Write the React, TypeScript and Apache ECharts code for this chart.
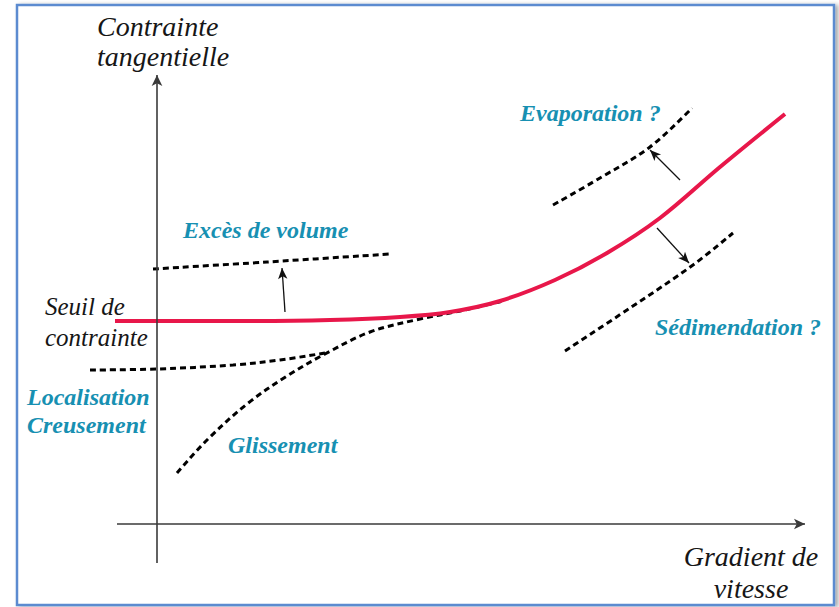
import React, { useEffect, useRef } from "react";
import * as echarts from "echarts";

// Schematic coordinates: origin at the crossing of the two axes (x to the right, y upward)
const xAxisLine: [number, number][] = [[-40, 0], [648, 0]];
const yAxisLine: [number, number][] = [[0, -39], [0, 449]];

const flowCurve: [number, number][] = [
  [-42, 203], [93, 203], [173, 204], [243, 207], [293, 212], [343, 223],
  [398, 244], [450, 271], [503, 306], [563, 357], [628, 410],
];
const excesCurve: [number, number][] = [[-4, 255], [110, 262], [233, 270]];
const localisationCurve: [number, number][] = [
  [-67, 154], [0, 155], [76, 159], [123, 164], [168, 171],
];
const glissementCurve: [number, number][] = [
  [20, 51], [50, 84], [90, 120], [130, 148], [168, 170],
  [213, 192], [263, 205], [303, 213], [346, 223],
];
const evaporationCurve: [number, number][] = [[396, 319], [443, 346], [493, 377], [535, 416]];
const sedimentationCurve: [number, number][] = [[408, 173], [473, 216], [536, 259], [576, 291]];

const arrows: [number, number][][] = [
  [[128, 212], [125, 256]],
  [[523, 344], [493, 374]],
  [[500, 296], [532, 261]],
];

const TEAL = "#1790b2";
const INK = "#161616";
const SERIF = "Liberation Serif";

type Label = { text: string; x: number; y: number; teal: boolean; size: number; align?: string };
const labels: Label[] = [
  { text: "Contrainte", x: 97, y: 26, teal: false, size: 28 },
  { text: "tangentielle", x: 97, y: 56, teal: false, size: 28 },
  { text: "Seuil de", x: 45, y: 306, teal: false, size: 25 },
  { text: "contrainte", x: 45, y: 337, teal: false, size: 25 },
  { text: "Gradient de", x: 751, y: 556, teal: false, size: 28, align: "center" },
  { text: "vitesse", x: 751, y: 588, teal: false, size: 28, align: "center" },
  { text: "Excès de volume", x: 183, y: 230, teal: true, size: 24 },
  { text: "Evaporation ?", x: 520, y: 113, teal: true, size: 24 },
  { text: "Sédimendation ?", x: 655, y: 327, teal: true, size: 24 },
  { text: "Localisation", x: 27, y: 397, teal: true, size: 24 },
  { text: "Creusement", x: 27, y: 425, teal: true, size: 24 },
  { text: "Glissement", x: 228, y: 445, teal: true, size: 24 },
];

const dashed = (name: string, data: [number, number][]) => ({
  name,
  type: "line",
  data,
  smooth: 0.35,
  showSymbol: false,
  symbol: "none",
  silent: true,
  z: 3,
  lineStyle: { color: "#000", width: 3, type: [6, 4], cap: "butt" },
});

export default function App() {
  const ref = useRef<HTMLDivElement>(null);
  useEffect(() => {
    document.body.style.margin = "0";
    const chart = echarts.init(ref.current!, undefined, { renderer: "svg" });
    chart.setOption({
      animation: false,
      backgroundColor: "#ffffff",
      grid: { left: 0, right: 0, top: 0, bottom: 0 },
      xAxis: { type: "value", min: -157, max: 682, show: false },
      yAxis: { type: "value", min: -83, max: 524, show: false },
      graphic: [
        {
          type: "rect",
          z: -10,
          shape: { x: 17, y: 5, width: 817, height: 600 },
          style: {
            fill: "#ffffff",
            stroke: "#5b8bd0",
            lineWidth: 2.5,
            shadowBlur: 4,
            shadowOffsetX: 3,
            shadowOffsetY: 1,
            shadowColor: "rgba(0,0,0,0.35)",
          },
        },
        ...labels.map((l) => ({
          type: "text",
          z: 100,
          silent: true,
          style: {
            text: l.text,
            x: l.x,
            y: l.y,
            fill: l.teal ? TEAL : INK,
            fontFamily: SERIF,
            fontSize: l.size,
            fontStyle: "italic",
            fontWeight: l.teal ? "bold" : "normal",
            align: l.align || "left",
            verticalAlign: "middle",
          },
        })),
      ],
      series: [
        {
          name: "axes",
          type: "line",
          data: [],
          silent: true,
          markLine: {
            silent: true,
            animation: false,
            symbol: ["none", "arrow"],
            symbolSize: [8, 11],
            label: { show: false },
            lineStyle: { color: "#3a3a3a", width: 1.6, type: "solid" },
            data: [
              [{ coord: xAxisLine[0] }, { coord: xAxisLine[1] }],
              [{ coord: yAxisLine[0] }, { coord: yAxisLine[1] }],
            ],
          },
        },
        {
          name: "arrows",
          type: "line",
          data: [],
          silent: true,
          markLine: {
            silent: true,
            animation: false,
            symbol: ["none", "arrow"],
            symbolSize: [7, 11],
            label: { show: false },
            lineStyle: { color: "#111", width: 1.3, type: "solid" },
            data: arrows.map((a) => [{ coord: a[0] }, { coord: a[1] }]),
          },
        },
        dashed("Excès de volume", excesCurve),
        dashed("Localisation", localisationCurve),
        dashed("Glissement", glissementCurve),
        dashed("Evaporation", evaporationCurve),
        dashed("Sédimendation", sedimentationCurve),
        {
          name: "Écoulement",
          type: "line",
          data: flowCurve,
          smooth: 0.35,
          showSymbol: false,
          symbol: "none",
          silent: true,
          z: 4,
          lineStyle: { color: "#e8174a", width: 4 },
        },
      ],
    });
    return () => chart.dispose();
  }, []);
  return (
    <div
      ref={ref}
      style={{ position: "absolute", left: 0, top: 0, width: 839, height: 607 }}
    />
  );
}
